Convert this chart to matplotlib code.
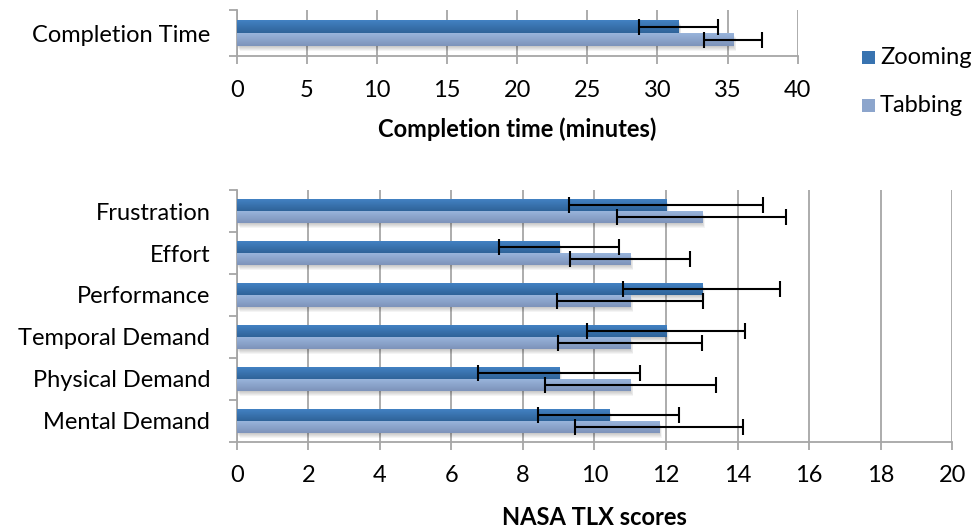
import numpy as np
import matplotlib
matplotlib.use("Agg")
import matplotlib.pyplot as plt
import matplotlib.transforms as mtransforms
from matplotlib.colors import LinearSegmentedColormap
from matplotlib.patches import Rectangle

# data
time_categories = ["Completion Time"]
time_zooming = [31.5]
time_zooming_err = [2.85]
time_tabbing = [35.4]
time_tabbing_err = [2.07]

tlx_categories = ["Mental Demand", "Physical Demand", "Temporal Demand",
                  "Performance", "Effort", "Frustration"]
tlx_zooming = [10.4, 9.0, 12.0, 13.0, 9.0, 12.0]
tlx_zooming_err = [1.97, 2.26, 2.22, 2.19, 1.68, 2.72]
tlx_tabbing = [11.8, 11.0, 11.0, 11.0, 11.0, 13.0]
tlx_tabbing_err = [2.34, 2.39, 2.01, 2.04, 1.68, 2.36]

series_names = ["Zooming", "Tabbing"]

plt.rcParams['font.family'] = ['Lato', 'DejaVu Sans']

GRID = '#a6a6a6'
ZOOM_TOP, ZOOM_BOT = '#4484c6', '#2f6399'
TAB_TOP, TAB_BOT = '#9bb7de', '#7d93ba'
BAR_H = 0.29
LABEL_FS = 17

fig = plt.figure(figsize=(9.78, 5.29), dpi=100)


def gradient_bars(ax, bars, top, bot):
    cmap = LinearSegmentedColormap.from_list('g', [top, bot])
    grad = np.linspace(0, 1, 64).reshape(-1, 1)
    for rect in bars:
        x0, y0 = rect.get_x(), rect.get_y()
        w, h = rect.get_width(), rect.get_height()
        rect.set_facecolor('none')
        im = ax.imshow(grad, extent=[x0, x0 + w, y0, y0 + h], origin='upper',
                       aspect='auto', cmap=cmap, zorder=3, interpolation='bilinear')
        im.set_clip_path(rect)
        # soft shadow under each bar
        for k in range(1, 6):
            off = mtransforms.offset_copy(ax.transData, fig=fig, x=0.6 * k,
                                          y=-1.0 * k, units='dots')
            ax.add_patch(Rectangle((x0, y0), w, h, facecolor='black',
                                   alpha=0.045, lw=0, transform=off, zorder=2))


def draw_panel(ax, cats, zoom, zoom_err, tab, tab_err, xmax, step):
    y = np.arange(len(cats))
    b1 = ax.barh(y + BAR_H / 2, zoom, height=BAR_H, zorder=3)
    b2 = ax.barh(y - BAR_H / 2, tab, height=BAR_H, zorder=3)
    gradient_bars(ax, b1, ZOOM_TOP, ZOOM_BOT)
    gradient_bars(ax, b2, TAB_TOP, TAB_BOT)
    ax.errorbar(zoom, y + BAR_H / 2, xerr=zoom_err, fmt='none', ecolor='black',
                elinewidth=1.5, capsize=5.5, capthick=1.5, zorder=5)
    ax.errorbar(tab, y - BAR_H / 2, xerr=tab_err, fmt='none', ecolor='black',
                elinewidth=1.5, capsize=5.5, capthick=1.5, zorder=5)

    ax.set_xlim(0, xmax)
    ax.set_ylim(-0.5, len(cats) - 0.5)
    ax.set_xticks(np.arange(0, xmax + step / 2, step))
    ax.xaxis.grid(True, color=GRID, lw=1.3, zorder=0)
    ax.set_axisbelow(True)

    # category boundaries as major ticks, names on minor ticks
    ax.set_yticks(np.arange(-0.5, len(cats), 1.0))
    ax.set_yticklabels([])
    ax.set_yticks(y, minor=True)
    ax.set_yticklabels(cats, minor=True, fontsize=LABEL_FS)
    ax.tick_params(axis='y', which='major', direction='out', length=6,
                   width=1.3, color=GRID)
    ax.tick_params(axis='y', which='minor', length=0, pad=19)
    ax.tick_params(axis='x', direction='out', length=6, width=1.3, color=GRID,
                   labelsize=LABEL_FS, pad=11)
    for side in ['top', 'right']:
        ax.spines[side].set_visible(False)
    for side in ['left', 'bottom']:
        ax.spines[side].set_color(GRID)
        ax.spines[side].set_linewidth(1.3)


W, H = 978, 529
ax1 = fig.add_axes([236.7 / W, 1 - 56 / H, 561 / W, 45.7 / H])
draw_panel(ax1, time_categories, time_zooming, time_zooming_err,
           time_tabbing, time_tabbing_err, 40, 5)
ax1.set_xlabel("Completion time (minutes)", fontsize=LABEL_FS, fontweight='bold',
               labelpad=12)

ax2 = fig.add_axes([236.7 / W, 1 - 441.7 / H, 715.6 / W, 251.5 / H])
draw_panel(ax2, tlx_categories, tlx_zooming, tlx_zooming_err,
           tlx_tabbing, tlx_tabbing_err, 20, 2)
ax2.set_xlabel("NASA TLX scores", fontsize=LABEL_FS, fontweight='bold',
               labelpad=14)

# legend
for name, col, yc in [(series_names[0], '#3873b0', 58), (series_names[1], '#8ca5cc', 105)]:
    fig.patches.append(Rectangle((862 / W, 1 - (yc + 6.5) / H), 13 / W, 13 / H,
                                 facecolor=col, lw=0, transform=fig.transFigure))
    fig.text(880 / W, 1 - yc / H, name, fontsize=LABEL_FS, va='center', ha='left')

fig.savefig('out.png', dpi=100)
